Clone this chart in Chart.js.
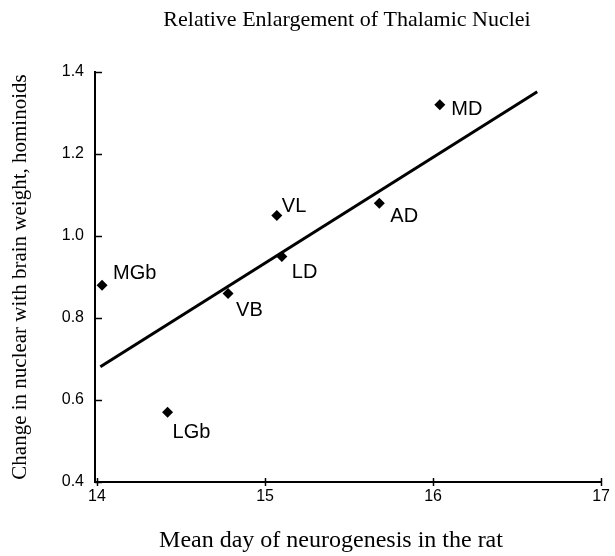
<!DOCTYPE html>
<html>
<head>
<meta charset="utf-8">
<script src="https://cdn.jsdelivr.net/npm/chart.js@4.4.1/dist/chart.umd.min.js"></script>
<style>
  html, body { margin: 0; padding: 0; background: #ffffff; }
  #wrap { width: 615px; height: 556px; }
</style>
</head>
<body>
<div id="wrap"><canvas id="c" width="615" height="556"></canvas></div>
<script>
// ---- data ----
const nucleiNames = ['MGb', 'LGb', 'VB', 'VL', 'LD', 'AD', 'MD'];
const neurogenesisDay = [14.03, 14.42, 14.78, 15.07, 15.10, 15.68, 16.04];
const enlargement = [0.88, 0.57, 0.86, 1.05, 0.95, 1.08, 1.32];
const fitLineX = [14.02, 16.62];
const fitLineY = [0.681, 1.352];
const xTickValues = [14, 15, 16, 17];
const yTickValues = [0.4, 0.6, 0.8, 1.0, 1.2, 1.4];
const chartTitle = 'Relative Enlargement of Thalamic Nuclei';
const xTitle = 'Mean day of neurogenesis in the rat';
const yTitle = 'Change in nuclear with brain weight, hominoids';

// label placement relative to each point (pixels)
const labelOffsets = {
  MGb: [11, -12], LGb: [5, 20], VB: [8, 17.5], VL: [5, -9],
  LD: [10, 16], AD: [11, 13], MD: [11.5, 5]
};

const scatterData = neurogenesisDay.map((x, i) => ({ x: x, y: enlargement[i] }));
const fitData = fitLineX.map((x, i) => ({ x: x, y: fitLineY[i] }));

const pointLabelPlugin = {
  id: 'pointLabels',
  afterDatasetsDraw(chart) {
    const ctx = chart.ctx;
    const meta = chart.getDatasetMeta(0);
    ctx.save();
    ctx.fillStyle = '#000';
    ctx.font = '20px "Liberation Sans", Arial, sans-serif';
    ctx.textAlign = 'left';
    ctx.textBaseline = 'middle';
    meta.data.forEach((el, i) => {
      const name = nucleiNames[i];
      const off = labelOffsets[name] || [8, 0];
      ctx.fillText(name, el.x + off[0], el.y + off[1]);
    });
    ctx.restore();
  }
};

const frameAndTitlesPlugin = {
  id: 'frameAndTitles',
  afterDraw(chart) {
    const ctx = chart.ctx;
    const xs = chart.scales.x, ys = chart.scales.y;
    const area = chart.chartArea;
    ctx.save();
    ctx.strokeStyle = '#000';
    ctx.lineWidth = 1.5;
    // y ticks, pointing inward
    ys.ticks.forEach(t => {
      const py = Math.round(ys.getPixelForValue(t.value)) + 0.5;
      ctx.beginPath();
      ctx.moveTo(area.left, py);
      ctx.lineTo(area.left + 7, py);
      ctx.stroke();
    });
    // x ticks, crossing the axis
    xs.ticks.forEach(t => {
      const px = Math.round(xs.getPixelForValue(t.value)) + 0.5;
      ctx.beginPath();
      ctx.moveTo(px, area.bottom - 4);
      ctx.lineTo(px, area.bottom + 4);
      ctx.stroke();
    });
    // titles
    ctx.fillStyle = '#000';
    ctx.textAlign = 'center';
    ctx.textBaseline = 'middle';
    ctx.font = '22px "Liberation Serif", "Times New Roman", serif';
    ctx.fillText(chartTitle, 347, 20);
    ctx.font = '24px "Liberation Serif", "Times New Roman", serif';
    ctx.fillText(xTitle, 331, 541);
    ctx.restore();
  }
};

new Chart(document.getElementById('c'), {
  type: 'scatter',
  data: {
    datasets: [
      {
        label: 'Nuclei',
        data: scatterData,
        pointStyle: 'rectRot',
        pointRadius: 5.5,
        pointHoverRadius: 5.5,
        backgroundColor: '#000',
        borderColor: '#000',
        borderWidth: 0,
        showLine: false
      },
      {
        label: 'Fit',
        type: 'line',
        data: fitData,
        borderColor: '#000',
        borderWidth: 3,
        pointRadius: 0,
        fill: false,
        tension: 0
      }
    ]
  },
  options: {
    responsive: false,
    animation: false,
    events: [],
    layout: { padding: { top: 72, right: 12, left: 0, bottom: 0 } },
    plugins: {
      legend: { display: false },
      tooltip: { enabled: false },
      title: { display: false }
    },
    scales: {
      x: {
        type: 'linear',
        min: 13.988,
        max: 17,
        afterBuildTicks(scale) { scale.ticks = xTickValues.map(v => ({ value: v })); },
        afterFit(scale) { scale.height = 74; },
        grid: { display: false, drawTicks: false },
        border: { display: true, color: '#000', width: 2 },
        ticks: {
          padding: 5,
          color: '#000',
          font: { family: '"Liberation Sans", Arial, sans-serif', size: 16 },
          maxRotation: 0,
          callback: v => String(v)
        }
      },
      y: {
        type: 'linear',
        min: 0.4,
        max: 1.4,
        afterBuildTicks(scale) { scale.ticks = yTickValues.map(v => ({ value: v })); },
        afterFit(scale) { scale.width = 95; },
        grid: { display: false, drawTicks: false },
        border: { display: true, color: '#000', width: 2 },
        title: {
          display: true,
          text: yTitle,
          color: '#000',
          font: { family: '"Liberation Serif", "Times New Roman", serif', size: 21 },
          padding: { top: 8, bottom: 0 }
        },
        ticks: {
          padding: 11,
          color: '#000',
          font: { family: '"Liberation Sans", Arial, sans-serif', size: 16 },
          callback: v => Number(v).toFixed(1)
        }
      }
    }
  },
  plugins: [pointLabelPlugin, frameAndTitlesPlugin]
});
</script>
</body>
</html>
